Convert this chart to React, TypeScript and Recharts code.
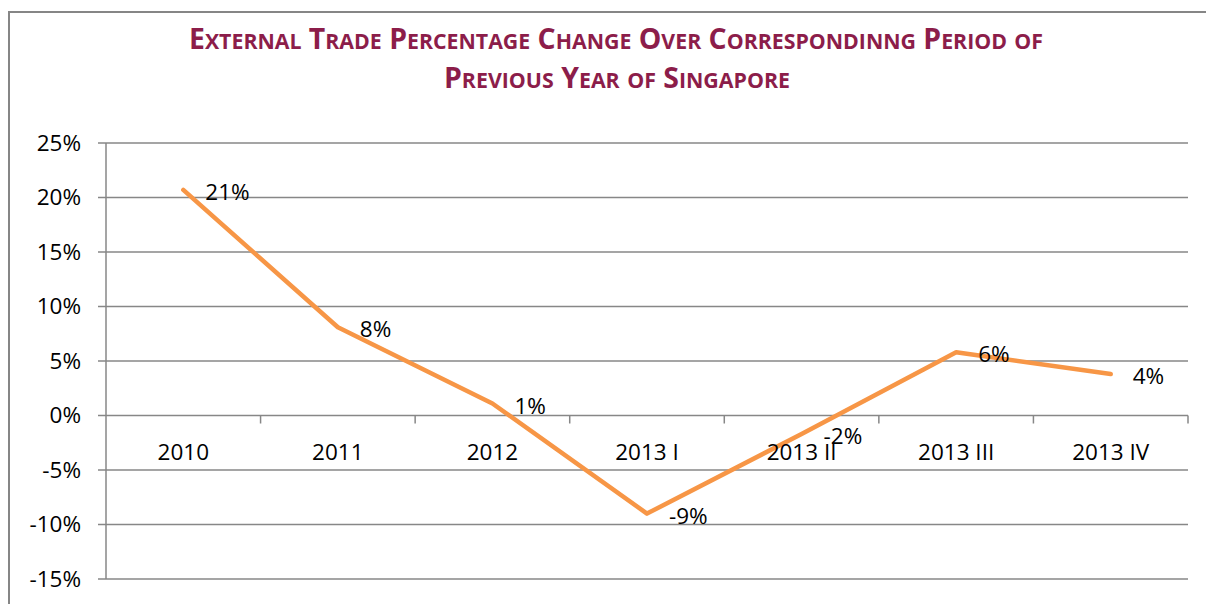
import React from 'react';
import { LineChart, Line, XAxis, YAxis, CartesianGrid, LabelList } from 'recharts';

const CATEGORIES = ['2010', '2011', '2012', '2013 I', '2013 II', '2013 III', '2013 IV'];
const TRADE_CHANGE = [20.7, 8.1, 1.1, -9.0, -1.7, 5.8, 3.8];
const Y_TICKS = [-15, -10, -5, 0, 5, 10, 15, 20, 25];
const TITLE_LINE_1 = 'External Trade Percentage Change Over Correspondinng Period of';
const TITLE_LINE_2 = 'Previous Year of Singapore';

const data = CATEGORIES.map((category, i) => ({ category, value: TRADE_CHANGE[i] }));

const W = 1206;
const H = 596;
const M_TOP = 135;
const M_RIGHT = 26;
const M_LEFT = 38;
const M_BOTTOM = 24;
const Y_AXIS_W = 60;
const X_AXIS_H = 1;
const PLOT_W = W - M_LEFT - Y_AXIS_W - M_RIGHT;
const PLOT_H = H - M_TOP - M_BOTTOM - X_AXIS_H;
const Y_MIN = -15;
const Y_MAX = 25;
const ZERO_Y = M_TOP + (PLOT_H * Y_MAX) / (Y_MAX - Y_MIN);
const BW = PLOT_W / CATEGORIES.length;

const GRID = '#878787';
const FONT = '"Open Sans", "DejaVu Sans", sans-serif';
const FS = 22.5;
const TITLE_COLOR = '#8C1D4A';

const XTick = (props: any) => {
  const { x, payload } = props;
  return (
    <g>
      <text x={x} y={ZERO_Y + 44} textAnchor="middle" fontSize={FS} fontFamily={FONT} fill="#000">
        {payload.value}
      </text>
      <line x1={x + BW / 2} x2={x + BW / 2} y1={ZERO_Y} y2={ZERO_Y + 8} stroke={GRID} strokeWidth={1.5} />
    </g>
  );
};

const PointLabel = (props: any) => {
  const { x, y, value } = props;
  return (
    <text x={x + 22} y={y + 10} fontSize={FS} fontFamily={FONT} fill="#000">
      {`${Math.round(value)}%`}
    </text>
  );
};

const smallCaps = (line: string, big: number, small: number) => {
  const parts: React.ReactNode[] = [];
  line.split(' ').forEach((word, wi) => {
    if (wi > 0) parts.push(<tspan key={`s${wi}`} fontSize={big}>{' '}</tspan>);
    let i = 0;
    let k = 0;
    while (i < word.length) {
      const isUpper = word[i] === word[i].toUpperCase();
      let j = i;
      while (j < word.length && (word[j] === word[j].toUpperCase()) === isUpper) j++;
      parts.push(
        <tspan key={`w${wi}_${k++}`} fontSize={isUpper ? big : small}>
          {word.slice(i, j).toUpperCase()}
        </tspan>
      );
      i = j;
    }
  });
  return parts;
};

export default function App() {
  return (
    <div style={{ position: 'relative', width: W, height: H, overflow: 'hidden' }}>
      <style>{'html,body{overflow:hidden}'}</style>
      <LineChart
        width={W}
        height={H}
        data={data}
        margin={{ top: M_TOP, right: M_RIGHT, left: M_LEFT, bottom: M_BOTTOM }}
      >
        <CartesianGrid vertical={false} stroke={GRID} strokeWidth={1.5} />
        <XAxis
          dataKey="category"
          scale="band"
          height={X_AXIS_H}
          axisLine={false}
          tickLine={false}
          interval={0}
          tick={<XTick />}
        />
        <YAxis
          domain={[Y_MIN, Y_MAX]}
          ticks={Y_TICKS}
          interval={0}
          width={Y_AXIS_W}
          tickFormatter={(v: number) => `${v}%`}
          axisLine={{ stroke: GRID, strokeWidth: 1.5 }}
          tickLine={{ stroke: GRID, strokeWidth: 1.5 }}
          tickSize={8}
          tickMargin={17}
          tick={{ fill: '#000', fontSize: FS, fontFamily: FONT }}
        />
        <Line
          type="linear"
          dataKey="value"
          stroke="#F79646"
          strokeWidth={4.5}
          strokeLinecap="round"
          strokeLinejoin="round"
          dot={false}
          isAnimationActive={false}
        >
          <LabelList dataKey="value" content={<PointLabel />} />
        </Line>
      </LineChart>
      <svg
        width={W}
        height={H}
        style={{ position: 'absolute', left: 0, top: 0, pointerEvents: 'none' }}
      >
        <path d={`M1,${H + 10} L1,4 L1205,4`} fill="none" stroke="#868686" strokeWidth={2} />
        <text
          x={181}
          y={40.5}
          fontFamily={FONT}
          fontWeight={700}
          fill={TITLE_COLOR}
          textLength={854}
          lengthAdjust="spacingAndGlyphs"
        >
          {smallCaps(TITLE_LINE_1, 28, 21)}
        </text>
        <text
          x={436}
          y={80}
          fontFamily={FONT}
          fontWeight={700}
          fill={TITLE_COLOR}
          textLength={346}
          lengthAdjust="spacingAndGlyphs"
        >
          {smallCaps(TITLE_LINE_2, 28, 21)}
        </text>
      </svg>
    </div>
  );
}
